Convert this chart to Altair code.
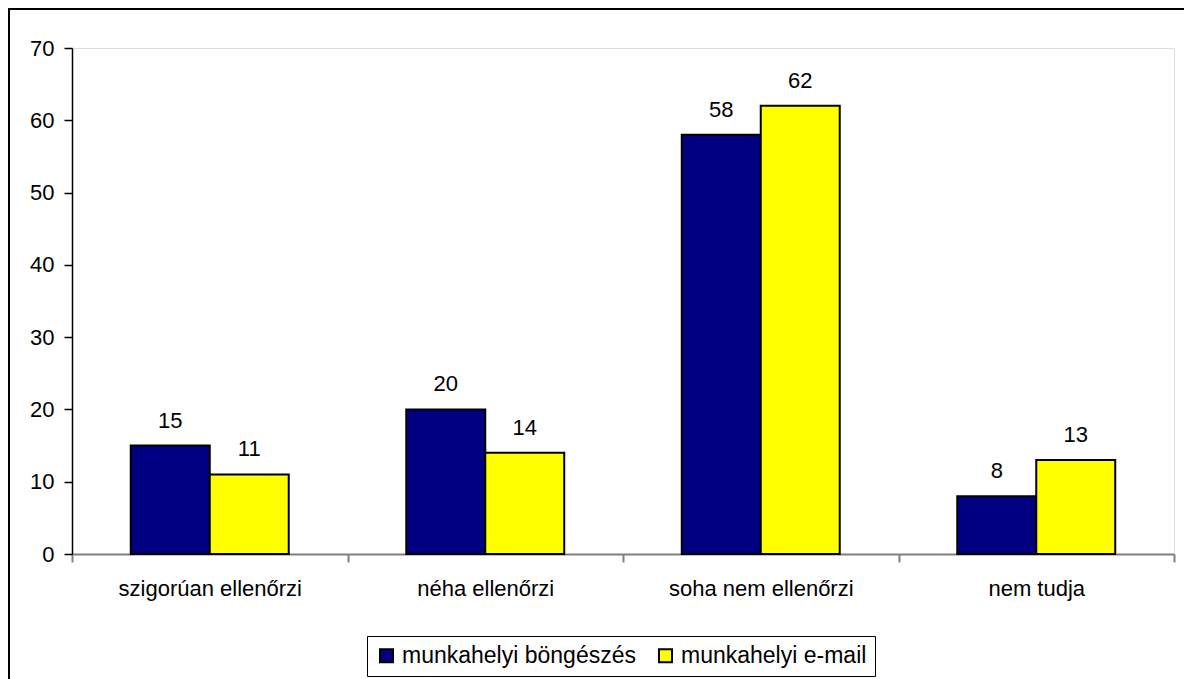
import altair as alt
import pandas as pd

categories = ["szigorúan ellenőrzi", "néha ellenőrzi", "soha nem ellenőrzi", "nem tudja"]
series = ["munkahelyi böngészés", "munkahelyi e-mail"]
browsing = [15, 20, 58, 8]
email = [11, 14, 62, 13]
colors = ["#000080", "#FFFF00"]
y_ticks = [0, 10, 20, 30, 40, 50, 60, 70]

rows = []
for c, b, e in zip(categories, browsing, email):
    rows.append({"cat": c, "series": series[0], "value": b})
    rows.append({"cat": c, "series": series[1], "value": e})
df = pd.DataFrame(rows)

W, H = 1102, 506
FONT = "Liberation Sans"
FS = 22

x_enc = alt.X("cat:N", sort=categories,
              scale=alt.Scale(paddingInner=0, paddingOuter=0),
              axis=alt.Axis(title=None, labelAngle=0, labelFont=FONT, labelFontSize=FS,
                            labelColor="black", labelPadding=16, tickBand="extent",
                            tickSize=8, tickColor="#808080", tickWidth=2,
                            domainColor="#808080", domainWidth=2, labelLimit=0))
xo_enc = alt.XOffset("series:N", sort=series,
                     scale=alt.Scale(paddingInner=0, paddingOuter=0.744))
y_enc = alt.Y("value:Q", scale=alt.Scale(domain=[0, 70], nice=False, zero=True),
              axis=alt.Axis(title=None, values=y_ticks, grid=False, labelFont=FONT,
                            labelFontSize=FS, labelColor="black", labelPadding=10,
                            tickSize=8, tickColor="black", tickWidth=1.5,
                            domainColor="black", domainWidth=1.5))

base = alt.Chart(df)

bars = base.mark_bar(stroke="black", strokeWidth=2).encode(
    x=x_enc, xOffset=xo_enc, y=y_enc,
    color=alt.Color("series:N", sort=series,
                    scale=alt.Scale(domain=series, range=colors),
                    legend=alt.Legend(title=None, orient="none", legendX=295, legendY=588,
                                      direction="horizontal", strokeColor="black",
                                      fillColor="white", padding=8,
                                      symbolType="square", symbolSize=170,
                                      symbolStrokeColor="black", symbolStrokeWidth=2,
                                      symbolOpacity=1, labelLimit=0,
                                      labelFont=FONT, labelFontSize=23, labelColor="black",
                                      labelOffset=4, columnPadding=18)),
)

labels = base.mark_text(font=FONT, fontSize=FS, color="black", baseline="alphabetic",
                        dy=-18).encode(
    x=alt.X("cat:N", sort=categories), xOffset=alt.XOffset("series:N", sort=series),
    y="value:Q", text="value:Q",
)

border_data = alt.Data(values=[{"k": 1}])
left_border = alt.Chart(border_data).mark_rule(color="black", strokeWidth=2).encode(
    x=alt.value(-63), y=alt.value(-40), y2=alt.value(H + 140))
top_border = alt.Chart(border_data).mark_rule(color="black", strokeWidth=2).encode(
    x=alt.value(-64), x2=alt.value(W + 30), y=alt.value(-39))

chart = alt.layer(bars, labels, left_border, top_border).properties(
    width=W, height=H,
    autosize=alt.AutoSizeParams(type="none"),
    padding={"left": 64, "top": 40, "right": 10, "bottom": 125},
).configure_view(stroke="#808080", strokeWidth=2).configure(background="white")

chart.save("out.html", embed_options={"renderer": "svg", "actions": False})
